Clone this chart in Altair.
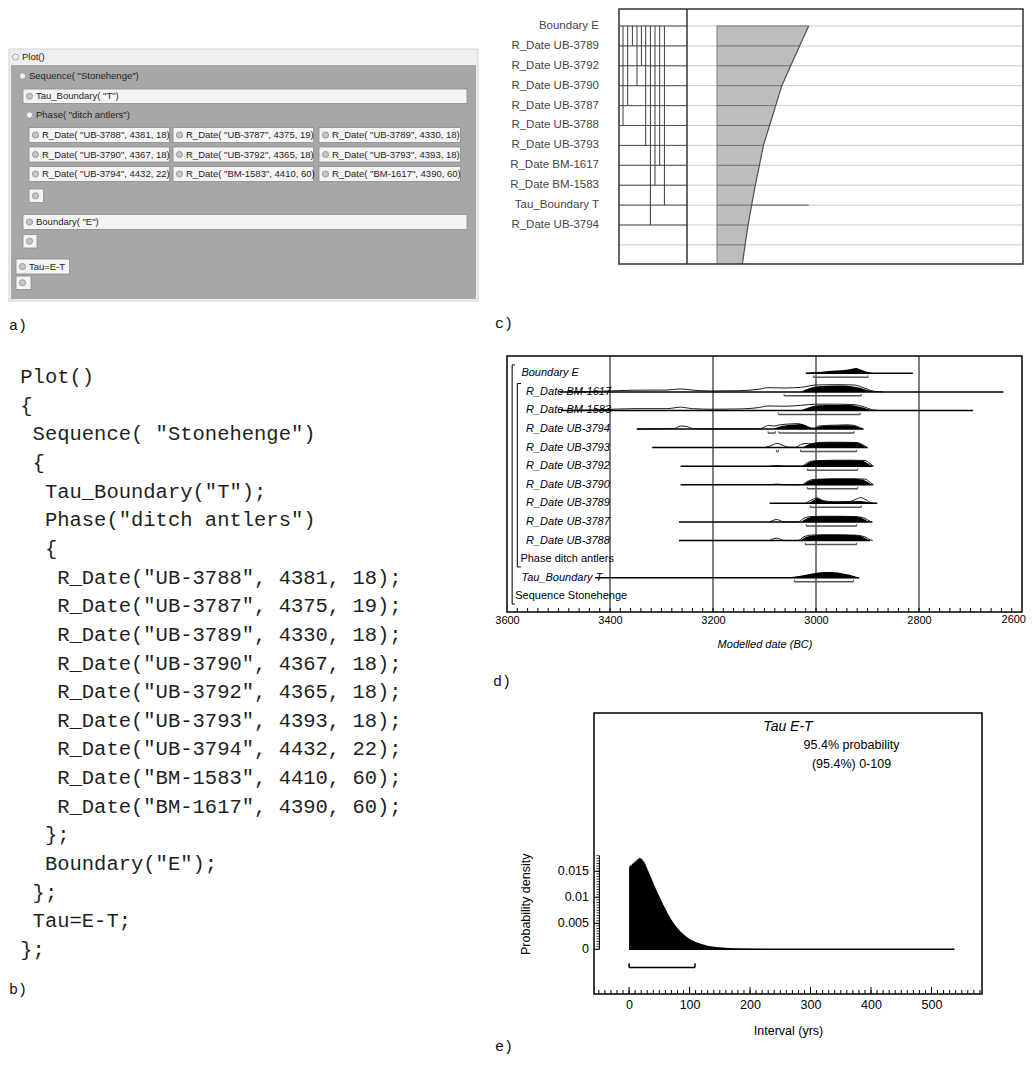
import altair as alt
import pandas as pd

FONT = "Liberation Sans"
MONO = "Liberation Mono"

# ============================ DATA ============================
lab_ids = ["UB-3788", "UB-3787", "UB-3789", "UB-3790", "UB-3792",
           "UB-3793", "UB-3794", "BM-1583", "BM-1617"]
lab_bp = [4381, 4375, 4330, 4367, 4365, 4393, 4432, 4410, 4390]
lab_err = [18, 19, 18, 18, 18, 18, 22, 60, 60]

# panel b : code listing
code_lines = (["Plot()", "{", 'Sequence( "Stonehenge")', "{", 'Tau_Boundary("T");',
               'Phase("ditch antlers")', "{"]
              + [f'R_Date("{i}", {b}, {e});' for i, b, e in zip(lab_ids, lab_bp, lab_err)]
              + ["};", 'Boundary("E");', "};", "Tau=E-T;", "};"])
code_indent = [0, 0, 1, 1, 2, 2, 2] + [3] * 9 + [2, 2, 1, 1, 0]

# panel a : GUI tree
gui_headers = ["Plot()", 'Sequence( "Stonehenge")', 'Phase( "ditch antlers")']
gui_items = (['Tau_Boundary( "T")']
             + [f'R_Date( "{i}", {b}, {e})' for i, b, e in zip(lab_ids, lab_bp, lab_err)]
             + ['Boundary( "E")', "Tau=E-T"])

# panel c : structure view
c_rows = ["Boundary E", "R_Date UB-3789", "R_Date UB-3792", "R_Date UB-3790", "R_Date UB-3787",
          "R_Date UB-3788", "R_Date UB-3793", "R_Date BM-1617", "R_Date BM-1583",
          "Tau_Boundary T", "R_Date UB-3794"]
c_band_rows = list(range(12)) + [11.96]
c_band_edge = [301.7, 292.6, 283.7, 274.8, 268.7, 262.6, 256.4, 252.4, 248.3, 244.6,
               241.1, 238.1, 235.4]
c_conn_names = [f"R_Date {i}" for i in lab_ids] + ["Tau_Boundary T"]

# panel d : multiplot
d_rows = ["Boundary E", "R_Date BM-1617", "R_Date BM-1583", "R_Date UB-3794", "R_Date UB-3793",
          "R_Date UB-3792", "R_Date UB-3790", "R_Date UB-3789", "R_Date UB-3787", "R_Date UB-3788",
          "Phase ditch antlers", "Tau_Boundary T", "Sequence Stonehenge"]
d_italic = [True] * 10 + [False, True, False]
d_ticks = [3600, 3400, 3200, 3000, 2800, 2600]
d_line = {  # extent of each plotted distribution (BC)
    "Boundary E": (3020, 2812), "R_Date BM-1617": (3498, 2636), "R_Date BM-1583": (3495, 2695),
    "R_Date UB-3794": (3348, 2908), "R_Date UB-3793": (3318, 2900), "R_Date UB-3792": (3263, 2890),
    "R_Date UB-3790": (3263, 2890), "R_Date UB-3789": (3090, 2881), "R_Date UB-3787": (3266, 2892),
    "R_Date UB-3788": (3266, 2895), "Tau_Boundary T": (3429, 2916)}
d_ranges = {  # 95.4% ranges (BC)
    "Boundary E": [(3005, 2899)], "R_Date BM-1617": [(3062, 2912)], "R_Date BM-1583": [(3073, 2914)],
    "R_Date UB-3794": [(3093, 3079), (3072, 2926)], "R_Date UB-3793": [(3077, 3073), (3030, 2921)],
    "R_Date UB-3792": [(3017, 2919)], "R_Date UB-3790": [(3017, 2919)], "R_Date UB-3789": [(3011, 2912)],
    "R_Date UB-3787": [(3019, 2921)], "R_Date UB-3788": [(3021, 2921)], "Tau_Boundary T": [(3042, 2927)]}
d_post = {  # posterior (filled), relative height
    "Boundary E": [(3020, 0), (3000, .2), (2980, .35), (2960, .45), (2945, .55), (2930, .75), (2922, .9),
                   (2912, .6), (2900, .2), (2890, .05), (2880, 0)],
    "R_Date BM-1617": [(3030, 0), (3010, .7), (2995, .95), (2960, 1.05), (2935, 1.0), (2915, .7), (2900, .3),
                       (2890, .05), (2885, 0)],
    "R_Date BM-1583": [(3030, 0), (3010, .6), (2995, .85), (2960, .9), (2935, .9), (2915, .6), (2900, .25),
                       (2890, 0)],
    "R_Date UB-3794": [(3082, 0), (3075, .3), (3060, .6), (3040, .75), (3030, .85), (3020, .6), (3010, .2),
                       (3004, .1), (2995, .4), (2980, .55), (2960, .6), (2940, .65), (2926, .55), (2915, .2),
                       (2908, 0)],
    "R_Date UB-3793": [(3025, 0), (3015, .5), (3005, .75), (2990, .85), (2960, .9), (2930, .88), (2915, .7),
                       (2905, .2), (2900, 0)],
    "R_Date UB-3792": [(3025, 0), (3015, .55), (3005, .85), (2990, .95), (2960, 1.0), (2930, 1.0), (2910, .9),
                       (2900, .5), (2893, .1), (2890, 0)],
    "R_Date UB-3790": [(3025, 0), (3015, .55), (3005, .85), (2990, .95), (2960, 1.0), (2930, 1.0), (2910, .9),
                       (2900, .5), (2893, .1), (2890, 0)],
    "R_Date UB-3789": [(3015, 0), (3005, .5), (2997, .85), (2990, .55), (2975, .3), (2950, .3), (2930, .35),
                       (2915, .4), (2905, .3), (2895, .1), (2885, 0)],
    "R_Date UB-3787": [(3028, 0), (3018, .6), (3005, .85), (2990, .95), (2960, .95), (2930, .9), (2915, .8),
                       (2905, .4), (2897, 0)],
    "R_Date UB-3788": [(3030, 0), (3020, .6), (3005, .85), (2990, .95), (2960, .95), (2930, .9), (2915, .8),
                       (2905, .4), (2897, 0)],
    "Tau_Boundary T": [(3053, 0), (3040, .2), (3020, .5), (3005, .75), (2990, .9), (2980, .95), (2965, .9),
                       (2950, .75), (2935, .5), (2925, .25), (2916, 0)],
}
d_like = {  # unmodelled likelihood (outline), relative height
    "R_Date BM-1617": [(3480, 0), (3420, .1), (3353, .28), (3290, .3), (3263, .5), (3240, .3), (3204, .15),
                       (3150, .2), (3110, .45), (3094, .7), (3062, .65), (3030, .75), (3000, 1.15), (2960, 1.2),
                       (2926, 1.15), (2905, .6), (2887, .1), (2870, 0)],
    "R_Date BM-1583": [(3480, 0), (3420, .12), (3353, .3), (3290, .3), (3263, .55), (3240, .3), (3200, .2),
                       (3150, .25), (3110, .5), (3094, .75), (3060, .7), (3030, .85), (3000, 1.05), (2960, 1.05),
                       (2930, 1.0), (2905, .55), (2890, .1), (2875, 0)],
    "R_Date UB-3794": [(3348, 0), (3300, .05), (3275, .1), (3263, .5), (3250, .4), (3240, .1), (3200, .02),
                       (3110, .03), (3101, .3), (3092, .6), (3082, .5), (3070, .7), (3050, .85), (3035, .9),
                       (3025, .7), (3010, .2), (3004, .15), (2995, .5), (2980, .6), (2960, .65), (2940, .7),
                       (2926, .6), (2915, .25), (2908, 0)],
    "R_Date UB-3793": [(3100, 0), (3088, .3), (3076, .7), (3065, .4), (3055, .1), (3040, .05), (3030, .5),
                       (3020, .7), (3010, .6), (3000, .8), (2980, .9), (2950, .9), (2920, .85), (2910, .5),
                       (2900, 0)],
    "R_Date UB-3792": [(3090, 0), (3075, .12), (3060, 0), (3028, 0), (3018, .5), (3008, .85), (2990, .95),
                       (2960, 1.0), (2930, 1.0), (2905, .95), (2895, .4), (2888, 0)],
    "R_Date UB-3790": [(3090, 0), (3075, .12), (3060, 0), (3028, 0), (3018, .5), (3008, .85), (2990, .95),
                       (2960, 1.0), (2930, 1.0), (2905, .95), (2895, .4), (2888, 0)],
    "R_Date UB-3789": [(3020, 0), (3008, .6), (2997, .9), (2988, .5), (2960, .25), (2935, .3), (2922, .7),
                       (2913, .95), (2903, .6), (2893, .1), (2884, 0)],
    "R_Date UB-3787": [(3090, 0), (3076, .4), (3062, 0), (3035, 0), (3024, .6), (3010, .9), (2990, .95),
                       (2960, .95), (2925, .9), (2905, .6), (2895, .1), (2890, 0)],
    "R_Date UB-3788": [(3090, 0), (3076, .4), (3062, 0), (3035, 0), (3024, .6), (3010, .9), (2990, .95),
                       (2960, .95), (2925, .9), (2905, .6), (2895, .1), (2890, 0)],
}

# panel e : Tau E-T interval
e_years = [0, 1, 2, 3, 4, 5, 6, 7, 8, 9, 10, 11, 12, 13, 14, 15, 16, 17, 18, 19, 20, 21, 22, 23, 24, 25,
           26, 27, 28, 29, 30, 32, 34, 36, 38, 40, 42, 44, 46, 48, 50, 53, 56, 60, 65, 70, 75, 80, 85, 90,
           95, 100, 110, 120, 130, 140, 150, 165, 180, 200, 230, 270, 320, 400, 538]
e_dens = [0.0157, 0.0161, 0.0159, 0.0164, 0.0160, 0.0166, 0.0163, 0.0168, 0.0164, 0.0170, 0.0167, 0.0172,
          0.0168, 0.0174, 0.0171, 0.0176, 0.0172, 0.0177, 0.0174, 0.0176, 0.0173, 0.0175, 0.0171, 0.0172,
          0.0168, 0.0169, 0.0165, 0.0164, 0.0160, 0.0158, 0.0155, 0.0150, 0.0144, 0.0139, 0.0133, 0.0128,
          0.0122, 0.0117, 0.0112, 0.0107, 0.0102, 0.0095, 0.0087, 0.0078, 0.0067, 0.0057, 0.0048, 0.0041,
          0.0034, 0.0029, 0.0024, 0.0020, 0.0014, 0.0010, 0.0007, 0.0005, 0.0004, 0.00025, 0.00016, 0.0001,
          0.00005, 0.00002, 0.00001, 0.0, 0.0]
e_range = (0, 109)
e_ytick_vals = [0, 0.005, 0.01, 0.015]
e_ytick_text = ["0", "0.005", "0.01", "0.015"]

# ============================ LAYOUT ============================
LW, LH = 472, 1050          # left column (GUI + code)
RW = 516                    # right column width

# ---------- left column: panel a (GUI) and panel b (code) ----------
GX = alt.Scale(domain=[8, 8 + LW], nice=False, zero=False)
GY = alt.Scale(domain=[8, 8 + LH], reverse=True, nice=False, zero=False)
gxe = lambda f: alt.X(f"{f}:Q", scale=GX, axis=None)
gye = lambda f: alt.Y(f"{f}:Q", scale=GY, axis=None)

grp = pd.DataFrame({"text": gui_headers, "x1": [8, 15, 22], "x2": [477, 473, 466],
                    "y1": [48, 68, 106.5], "yh": [64, 82, 121.5], "y2": [300, 253, 209]})
grp["bx1"], grp["bx2"], grp["by2"] = grp.x1 + 2, grp.x2 - 2, grp.y2 - 2
grp["ty"], grp["tx"], grp["ix"] = (grp.y1 + grp.yh) / 2, grp.x1 + 13, grp.x1 + 6.5

col_x1, col_x2, row_y1 = [28, 172, 318], [168.5, 312.5, 459.5], [126.5, 146, 165.5]
boxes = ([(22, 466, 88, 102.5)]
         + [(col_x1[k % 3], col_x2[k % 3], row_y1[k // 3], row_y1[k // 3] + 15) for k in range(9)]
         + [(22, 466, 213.5, 228.5), (15, 68.5, 258, 273)])
it = pd.DataFrame(boxes, columns=["x1", "x2", "y1", "y2"])
it["text"] = gui_items
btn = pd.DataFrame([(28, 42.5, 188, 201.5), (22, 36, 233.5, 247), (15, 30, 275, 288.5)],
                   columns=["x1", "x2", "y1", "y2"])
btn["text"] = ""
allb = pd.concat([it, btn], ignore_index=True)
allb["ty"], allb["tx"], allb["ix"] = (allb.y1 + allb.y2) / 2, allb.x1 + 13, allb.x1 + 6.5

g_frame = alt.Chart(grp).mark_rect(fill="#eeeeee", stroke="#d2d2d2", strokeWidth=1).encode(
    x=gxe("x1"), x2="x2", y=gye("y1"), y2="y2")
g_body = alt.Chart(grp).mark_rect(fill="#a7a7a7").encode(x=gxe("bx1"), x2="bx2", y=gye("yh"), y2="by2")
g_box = alt.Chart(allb).mark_rect(fill="#f4f4f4", stroke="#8a8a8a", strokeWidth=0.8).encode(
    x=gxe("x1"), x2="x2", y=gye("y1"), y2="y2")
g_hicon = alt.Chart(grp).mark_point(shape="circle", filled=True, size=38, fill="#f2f2f2",
                                    stroke="#9a9a9a", strokeWidth=0.8, opacity=1).encode(x=gxe("ix"), y=gye("ty"))
g_icon = alt.Chart(allb).mark_point(shape="circle", filled=True, size=38, fill="#c6c6c6",
                                    stroke="#8c8c8c", strokeWidth=0.8, opacity=1).encode(x=gxe("ix"), y=gye("ty"))
g_htext = alt.Chart(grp).mark_text(align="left", baseline="middle", font=FONT, fontSize=9.5,
                                   color="#1e1e1e").encode(x=gxe("tx"), y=gye("ty"), text="text:N")
g_text = alt.Chart(allb).mark_text(align="left", baseline="middle", font=FONT, fontSize=9.5,
                                   color="#1e1e1e").encode(x=gxe("tx"), y=gye("ty"), text="text:N")
g_lab = alt.Chart(pd.DataFrame({"x": [8, 8], "y": [324, 988], "t": ["a)", "b)"]})).mark_text(
    align="left", baseline="middle", font=MONO, fontSize=15, color="#111").encode(
    x=gxe("x"), y=gye("y"), text="t:N")
gui = alt.layer(g_frame, g_body, g_box, g_hicon, g_icon, g_htext, g_text, g_lab)

code_df = pd.DataFrame({"line": list(range(len(code_lines))), "indent": code_indent, "text": code_lines})
CX = alt.Scale(domain=[(8 - 19.3) / 12.3, (8 + LW - 19.3) / 12.3], nice=False, zero=False)
CY = alt.Scale(domain=[(8 - 376) / 28.65, (8 + LH - 376) / 28.65], reverse=True, nice=False, zero=False)
code = alt.Chart(code_df).mark_text(align="left", baseline="middle", font=MONO, fontSize=20.5,
                                    color="#1f1f1f").encode(
    x=alt.X("indent:Q", scale=CX, axis=None), y=alt.Y("line:Q", scale=CY, axis=None), text="text:N")

left = alt.layer(gui, code).resolve_scale(x="independent", y="independent").properties(width=LW, height=LH)

# ---------- panel c ----------
CXS = alt.Scale(domain=[0, RW], nice=False, zero=False)
CYS = alt.Scale(domain=[-0.854, 11.96], reverse=True, nice=False, zero=False)
cxe = lambda f: alt.X(f"{f}:Q", scale=CXS, axis=None)
cye = lambda f: alt.Y(f"{f}:Q", scale=CYS, axis=None)
C_L, C_DIV, C_R, BAND_L = 112, 180, RW, 210

c_grid = pd.DataFrame({"row": list(range(12)), "x1": C_L, "x2": C_R})
c_leftl = pd.DataFrame({"row": list(range(11)), "x1": C_L, "x2": C_DIV})
c_band = pd.DataFrame({"row": c_band_rows, "x1": BAND_L, "x2": c_band_edge})
c_conn = pd.DataFrame({"x": [116, 120.7, 125.4, 130, 134.4, 138.7, 143.4, 148, 152.7, 157.4],
                       "y1": 0, "y2": [c_rows.index(n) for n in c_conn_names]})
c_tau = pd.DataFrame({"row": [9], "x1": [c_band_edge[9]], "x2": [c_band_edge[0]]})
c_box = pd.DataFrame({"x1": [C_L], "x2": [C_R], "y1": [-0.854], "y2": [11.96]})
c_div = pd.DataFrame({"x": [C_DIV], "y1": [-0.854], "y2": [11.96]})
c_lab = pd.DataFrame({"row": list(range(len(c_rows))), "text": c_rows, "x": 92})

c_chart = alt.layer(
    alt.Chart(c_grid).mark_rule(color="#cdcdcd", strokeWidth=1).encode(y=cye("row"), x=cxe("x1"), x2="x2"),
    alt.Chart(c_leftl).mark_rule(color="#505050", strokeWidth=1).encode(y=cye("row"), x=cxe("x1"), x2="x2"),
    alt.Chart(c_band).mark_area(orient="horizontal", color="#bdbdbd").encode(y=cye("row"), x=cxe("x1"), x2="x2"),
    alt.Chart(c_band[c_band.row <= 11]).mark_rule(color="#6e6e6e", strokeWidth=1).encode(
        y=cye("row"), x=cxe("x1"), x2="x2"),
    alt.Chart(c_band).mark_line(color="#505050", strokeWidth=1.2).encode(
        y=cye("row"), x=cxe("x2"), order="row:Q"),
    alt.Chart(c_band).mark_line(color="#777777", strokeWidth=1).encode(
        y=cye("row"), x=cxe("x1"), order="row:Q"),
    alt.Chart(c_conn).mark_rule(color="#3c3c3c", strokeWidth=1).encode(x=cxe("x"), y=cye("y1"), y2="y2"),
    alt.Chart(c_tau).mark_rule(color="#555555", strokeWidth=1).encode(y=cye("row"), x=cxe("x1"), x2="x2"),
    alt.Chart(c_box).mark_rect(filled=False, stroke="#333333", strokeWidth=1.5).encode(
        x=cxe("x1"), x2="x2", y=cye("y1"), y2="y2"),
    alt.Chart(c_div).mark_rule(color="#333333", strokeWidth=1.5).encode(x=cxe("x"), y=cye("y1"), y2="y2"),
    alt.Chart(c_lab).mark_text(align="right", baseline="middle", font=FONT, fontSize=11.5,
                               color="#444444").encode(x=cxe("x"), y=cye("row"), text="text:N"),
).properties(width=RW, height=255)

# ---------- panel d ----------
DXS = alt.Scale(domain=[2600, 3600], reverse=True, nice=False, zero=False)
DYS = alt.Scale(domain=[-0.931, 12.847], reverse=True, nice=False, zero=False)
d_axis = alt.Axis(values=d_ticks[:-1], format="d", domain=False, ticks=False,
                  grid=False, labelFlush=False, labelOverlap=False,
                  labelFont=FONT, labelFontSize=11, labelColor="#000", labelPadding=2,
                  title="Modelled date (BC)", titleFont=FONT, titleFontSize=11, titleFontStyle="italic",
                  titleFontWeight="normal", titleColor="#000", titlePadding=13)
dxe = lambda f: alt.X(f"{f}:Q", scale=DXS, axis=d_axis)
dye = lambda f: alt.Y(f"{f}:Q", scale=DYS, axis=None)
HS = 6.0 / 18.58
ridx = {n: i for i, n in enumerate(d_rows)}

post_df = pd.DataFrame([{"label": n, "year": y, "top": ridx[n] - h * HS, "base": ridx[n]}
                        for n, pts in d_post.items() for y, h in pts])
like_df = pd.DataFrame([{"label": n, "year": y, "top": ridx[n] - h * HS}
                        for n, pts in d_like.items() for y, h in pts])
base_df = pd.DataFrame([{"row": ridx[n], "x1": a, "x2": b} for n, (a, b) in d_line.items()])
rng_df = pd.DataFrame([{"ry": ridx[n] + 0.215, "x1": a, "x2": b} for n, segs in d_ranges.items()
                       for a, b in segs])
rng_tk = pd.DataFrame([{"x": v, "y1": r, "y2": r - 0.1} for r, a, b in zip(rng_df.ry, rng_df.x1, rng_df.x2)
                       for v in (a, b)])
lab_df = pd.DataFrame({"row": list(range(len(d_rows))), "text": d_rows, "italic": d_italic,
                       "x": [3572] + [3563] * 9 + [3574, 3572, 3584]})
grid_df = pd.DataFrame({"x": [3400, 3200, 3000, 2800], "y1": -0.931, "y2": 12.847})
dbox = pd.DataFrame({"x1": [3600], "x2": [2600], "y1": [-0.931], "y2": [12.847]})
dminor = pd.DataFrame({"x": list(range(3580, 2600, -20))})
brk_v = pd.DataFrame({"x": [3590, 3580], "y1": [-0.45, 0.55], "y2": [12.42, 10.42]})
brk_h = pd.DataFrame({"x1": [3590, 3590, 3580, 3580], "x2": [3584.5, 3584.5, 3572.8, 3572.8],
                      "y": [-0.45, 12.42, 0.55, 10.42]})
d_last = pd.DataFrame({"x": [d_ticks[-1]], "t": [str(d_ticks[-1])]})

d_chart = alt.layer(
    alt.Chart(lab_df[lab_df.italic]).mark_text(align="left", baseline="middle", font=FONT, fontSize=11,
                                               fontStyle="italic", color="#000").encode(
        x=dxe("x"), y=dye("row"), text="text:N"),
    alt.Chart(lab_df[~lab_df.italic]).mark_text(align="left", baseline="middle", font=FONT, fontSize=11,
                                                color="#000").encode(x=dxe("x"), y=dye("row"), text="text:N"),
    alt.Chart(grid_df).mark_rule(color="#000", strokeWidth=1).encode(x=dxe("x"), y=dye("y1"), y2="y2"),
    alt.Chart(dminor).mark_rule(color="#000", strokeWidth=1).encode(
        x=dxe("x"), y=alt.value(256), y2=alt.value(252)),
    alt.Chart(brk_v).mark_rule(color="#000", strokeWidth=1).encode(x=dxe("x"), y=dye("y1"), y2="y2"),
    alt.Chart(brk_h).mark_rule(color="#000", strokeWidth=1).encode(x=dxe("x1"), x2="x2", y=dye("y")),
    alt.Chart(post_df).mark_area(color="#000", interpolate="monotone").encode(
        x=dxe("year"), y=dye("top"), y2="base", detail="label:N"),
    alt.Chart(like_df).mark_line(color="#000", strokeWidth=0.9, interpolate="monotone").encode(
        x=dxe("year"), y=dye("top"), detail="label:N"),
    alt.Chart(base_df).mark_rule(color="#000", strokeWidth=1.5).encode(x=dxe("x1"), x2="x2", y=dye("row")),
    alt.Chart(rng_df).mark_rule(color="#555", strokeWidth=1.5).encode(x=dxe("x1"), x2="x2", y=dye("ry")),
    alt.Chart(rng_tk).mark_rule(color="#555", strokeWidth=1).encode(x=dxe("x"), y=dye("y1"), y2="y2"),
    alt.Chart(dbox).mark_rect(filled=False, stroke="#000", strokeWidth=1.5).encode(
        x=dxe("x1"), x2="x2", y=dye("y1"), y2="y2"),
    alt.Chart(d_last).mark_text(align="right", baseline="middle", dx=4, font=FONT, fontSize=11,
                                color="#000").encode(x=dxe("x"), y=alt.value(263.5), text="t:N"),
).properties(width=515, height=256)

# ---------- panel e ----------
EXS = alt.Scale(domain=[-58, 583.5], range=[87, 475], nice=False, zero=False)
EYS = alt.Scale(domain=[-0.0086, 0.04544], nice=False, zero=False)
e_axis = alt.Axis(values=[0, 100, 200, 300, 400, 500], format="d", domain=False, ticks=False, grid=False,
                  labelFlush=False, labelOverlap=False,
                  labelFont=FONT, labelFontSize=12.5, labelColor="#000", labelPadding=4,
                  title="Interval (yrs)", titleFont=FONT, titleFontSize=12.5, titleFontWeight="normal",
                  titleColor="#000", titlePadding=14)
exe = lambda f: alt.X(f"{f}:Q", scale=EXS, axis=e_axis)
eye = lambda f: alt.Y(f"{f}:Q", scale=EYS, axis=None)
EH = 281

dens_df = pd.DataFrame({"x": e_years, "y": e_dens, "y0": 0.0})
ebox = pd.DataFrame({"x1": [-58], "x2": [583.5], "y1": [-0.0086], "y2": [0.04544]})
e_base = pd.DataFrame({"x1": [e_years[0]], "x2": [e_years[-1]], "y": [0.0]})
e_rng = pd.DataFrame({"x1": [e_range[0]], "x2": [e_range[1]], "y": [-0.0035]})
e_rtk = pd.DataFrame({"x": list(e_range), "y1": -0.0035, "y2": -0.0027})
e_xminor = pd.DataFrame({"x": list(range(-50, 590, 10))})
e_xmajor = pd.DataFrame({"x": list(range(0, 600, 100))})
e_yline = pd.DataFrame({"x": [-49], "y1": [0.0], "y2": [0.018]})
e_ymajor = pd.DataFrame({"x1": -58, "x2": -49, "y": e_ytick_vals, "t": e_ytick_text})
e_yminor = pd.DataFrame({"x1": -54, "x2": -49, "y": [k * 0.0005 for k in range(37)]})

e_chart = alt.layer(
    alt.Chart(dens_df).mark_area(color="#000", interpolate="linear").encode(
        x=exe("x"), y=eye("y"), y2="y0"),
    alt.Chart(e_base).mark_rule(color="#000", strokeWidth=1.5).encode(x=exe("x1"), x2="x2", y=eye("y")),
    alt.Chart(e_rng).mark_rule(color="#000", strokeWidth=1.5).encode(x=exe("x1"), x2="x2", y=eye("y")),
    alt.Chart(e_rtk).mark_rule(color="#000", strokeWidth=1.5).encode(x=exe("x"), y=eye("y1"), y2="y2"),
    alt.Chart(e_xminor).mark_rule(color="#000", strokeWidth=1).encode(
        x=exe("x"), y=alt.value(EH), y2=alt.value(EH - 4)),
    alt.Chart(e_xmajor).mark_rule(color="#000", strokeWidth=1).encode(
        x=exe("x"), y=alt.value(EH), y2=alt.value(EH - 7)),
    alt.Chart(e_yline).mark_rule(color="#000", strokeWidth=1).encode(x=exe("x"), y=eye("y1"), y2="y2"),
    alt.Chart(e_ymajor).mark_rule(color="#000", strokeWidth=1).encode(x=exe("x1"), x2="x2", y=eye("y")),
    alt.Chart(e_yminor).mark_rule(color="#000", strokeWidth=0.8).encode(x=exe("x1"), x2="x2", y=eye("y")),
    alt.Chart(e_ymajor).mark_text(align="right", baseline="middle", dx=-5, font=FONT, fontSize=12.5,
                                  color="#000").encode(x=exe("x1"), y=eye("y"), text="t:N"),
    alt.Chart(ebox).mark_rect(filled=False, stroke="#000", strokeWidth=1.5).encode(
        x=exe("x1"), x2="x2", y=eye("y1"), y2="y2"),
    alt.Chart(pd.DataFrame({"t": ["Tau E-T"]})).mark_text(
        align="center", baseline="middle", font=FONT, fontSize=14, fontStyle="italic", color="#000").encode(
        x=alt.value(281), y=alt.value(13.7), text="t:N"),
    alt.Chart(pd.DataFrame({"t": ["95.4% probability"]})).mark_text(
        align="center", baseline="middle", font=FONT, fontSize=12.5, color="#000").encode(
        x=alt.value(344.5), y=alt.value(31.7), text="t:N"),
    alt.Chart(pd.DataFrame({"t": ["(95.4%) 0-109"]})).mark_text(
        align="center", baseline="middle", font=FONT, fontSize=12.5, color="#000").encode(
        x=alt.value(344.5), y=alt.value(51.3), text="t:N"),
    alt.Chart(pd.DataFrame({"t": ["Probability density"]})).mark_text(
        align="center", baseline="middle", angle=270, font=FONT, fontSize=12.5, color="#000").encode(
        x=alt.value(19), y=alt.value(191.3), text="t:N"),
    alt.Chart(pd.DataFrame({"t": ["e)"]})).mark_text(
        align="left", baseline="middle", font=MONO, fontSize=15, color="#111").encode(
        x=alt.value(-12), y=alt.value(333), text="t:N"),
).properties(width=RW, height=EH)


# ---------- spacers carrying the panel letters ----------
def spacer(h, label="", lx=0, ly=0):
    return alt.Chart(pd.DataFrame({"t": [label]})).mark_text(
        align="left", baseline="middle", font=MONO, fontSize=15, color="#111").encode(
        x=alt.value(lx), y=alt.value(ly), text="t:N").properties(width=20, height=h)


sp_c = spacer(92, "c)", -12, 59)
sp_d = spacer(101, "d)", -14, 69)

right = alt.vconcat(c_chart, sp_c, d_chart, sp_d, e_chart, spacing=0, bounds="flush")

chart = alt.hconcat(left, right, spacing=12).properties(padding=0).configure(
    font=FONT).configure_view(stroke=None)

chart.save("out.html", embed_options={"renderer": "svg", "actions": False})
